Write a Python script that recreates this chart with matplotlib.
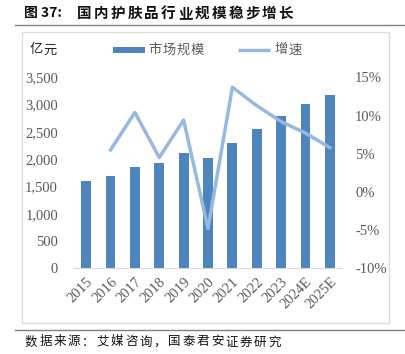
import matplotlib
matplotlib.use("Agg")
import matplotlib.pyplot as plt
from matplotlib.lines import Line2D
from matplotlib.patches import Rectangle
from matplotlib.ticker import FuncFormatter

plt.rcParams['font.family'] = ['Noto Sans CJK SC', 'DejaVu Sans']

# ----------------- 数据 -----------------
years = ["2015", "2016", "2017", "2018", "2019", "2020", "2021", "2022", "2023", "2024E", "2025E"]
market_size = [1600, 1690, 1855, 1935, 2120, 2015, 2300, 2555, 2785, 3005, 3170]
growth = [None, 5.5, 10.4, 4.5, 9.4, -4.8, 13.7, 11.3, 9.2, 7.7, 5.8]
legend_labels = ["市场规模", "增速"]

bar_color = "#4e85bc"
line_color = "#95b9e1"
tick_color = "#595959"
serif = "Liberation Serif"

fig = plt.figure(figsize=(4.06, 3.54), dpi=100)
W, H = 406, 354


def spaced_text(x0, y, s, step, **kw):
    """逐字放置文字（像素坐标），模拟宽字距。"""
    for i, ch in enumerate(s):
        fig.text((x0 + i * step) / W, 1 - y / H, ch, va="center", ha="left", **kw)


# 标题与分隔线
fig.text(24 / W, 1 - 13 / H, "图 37:", fontsize=10, fontweight="bold",
         va="center", ha="left", color="#111111")
spaced_text(77, 13, "国内护肤品行业规模稳步增长", 16.8, fontsize=10.5,
            fontweight="bold", color="#111111")
fig.add_artist(Line2D([15 / W, 405 / W], [1 - 25 / H, 1 - 25 / H], color="#808080", lw=1.0))
fig.add_artist(Rectangle((22 / W, 1 - 323 / H), (389 - 22) / W, (323 - 32) / H,
                         fill=False, edgecolor="#dcdcdc", lw=1.0))
fig.add_artist(Line2D([15 / W, 405 / W], [1 - 330 / H, 1 - 330 / H], color="#808080", lw=1.0))
spaced_text(25, 342, "数据来源：艾媒咨询，国泰君安证券研究", 14.3, fontsize=9, color="#111111")

# 主图
ax = fig.add_axes([74 / W, 1 - 268.3 / H, (342 - 74) / W, (268.3 - 77.3) / H])
x = list(range(len(years)))
ax.bar(x, market_size, width=0.4, color=bar_color, zorder=2)
ax.set_ylim(0, 3500)
ax.set_xlim(-0.5, len(years) - 0.5)
ax.set_yticks(range(0, 3501, 500))
ax.yaxis.set_major_formatter(FuncFormatter(lambda v, p: f"{int(v):,}"))
ax.set_xticks(x)
ax.set_xticklabels(years, rotation=45, ha="right", rotation_mode="anchor")
for side in ["top", "left", "right"]:
    ax.spines[side].set_visible(False)
ax.spines["bottom"].set_color("#d9d9d9")
ax.tick_params(length=0, colors=tick_color, labelsize=10.5)
ax.tick_params(axis="y", pad=11.5)
ax.tick_params(axis="x", pad=5)
for lbl in ax.get_xticklabels() + ax.get_yticklabels():
    lbl.set_fontfamily(serif)

ax2 = ax.twinx()
gx = [i for i, g in zip(x, growth) if g is not None]
gy = [g for g in growth if g is not None]
ax2.plot(gx, gy, color=line_color, lw=2.5, zorder=3)
ax2.set_ylim(-10, 15)
ax2.set_yticks(range(-10, 16, 5))
ax2.yaxis.set_major_formatter(FuncFormatter(lambda v, p: f"{int(v)}%"))
for side in ["top", "left", "right", "bottom"]:
    ax2.spines[side].set_visible(False)
ax2.tick_params(length=0, colors=tick_color, labelsize=10.5, pad=9.4)
for lbl in ax2.get_yticklabels():
    lbl.set_fontfamily(serif)

# 图例与单位（手工绘制）
spaced_text(30, 50, "亿元", 13.5, fontsize=9.5, color="#222222")
fig.add_artist(Rectangle((113 / W, 1 - 52.5 / H), 32 / W, 5 / H,
                         facecolor=bar_color, edgecolor="none"))
spaced_text(148, 50, legend_labels[0], 14.3, fontsize=9.5, color=tick_color)
fig.add_artist(Line2D([238 / W, 270 / W], [1 - 50 / H, 1 - 50 / H],
                      color=line_color, lw=2.5, solid_capstyle="butt"))
spaced_text(274, 50, legend_labels[1], 14.3, fontsize=9.5, color=tick_color)

fig.savefig("out.png", dpi=100)
